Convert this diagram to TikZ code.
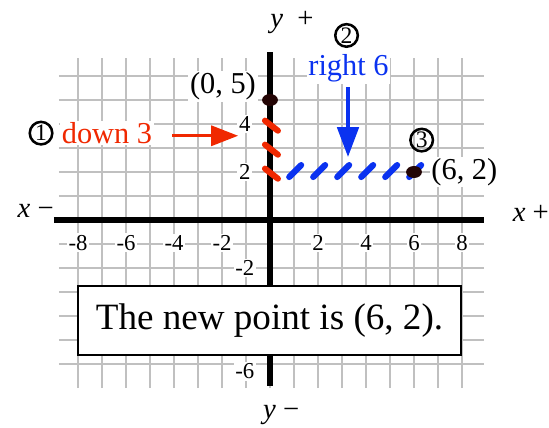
\documentclass[tikz,border=0pt]{standalone}
\usepackage{fontspec}
\setmainfont{Liberation Serif}
\usetikzlibrary{arrows.meta,positioning,shapes.geometric}
\definecolor{downred}{RGB}{240,40,0}
\definecolor{rightblue}{RGB}{10,50,240}
\definecolor{gridgray}{RGB}{192,192,192}
\definecolor{dotbrown}{RGB}{35,5,5}
\tikzset{
 gridline/.style={gridgray,line width=1.6pt},
 axisline/.style={black,line width=3pt},
 ticklabel/.style={fill=white,inner sep=1pt,font=\fontsize{13.5}{14}\selectfont},
 ptlabel/.style={fill=white,inner sep=1pt,font=\fontsize{18}{20}\selectfont},
 axislabel/.style={inner sep=1pt,font=\fontsize{17}{18}\selectfont},
 numcircle/.style={circle,draw,line width=1.5pt,inner sep=0pt,minimum size=0.47cm,font=\fontsize{14}{14}\selectfont},
 ptdot/.style={ellipse,fill=dotbrown,inner sep=0pt,minimum width=0.33cm,minimum height=0.25cm},
 redstroke/.style={downred,line width=3.6pt,line cap=round},
 bluestroke/.style={rightblue,line width=3.6pt,line cap=round},
 redarrow/.style={downred,line width=1.6pt,-{Triangle[length=0.56cm,width=0.42cm]}},
 bluearrow/.style={rightblue,line width=1.8pt,-{Triangle[length=0.62cm,width=0.45cm]}},
 msgbox/.style={draw,fill=white,line width=1.5pt,inner sep=0pt,minimum width=7.98cm,minimum height=1.44cm,font=\fontsize{22}{24}\selectfont}
}
\begin{document}
\begin{tikzpicture}[x=0.5cm,y=0.5cm]
 \useasboundingbox (-11.25,-8.625) rectangle (11.625,9.167);
 % grid and axes
 \foreach \x in {-8,...,8} \draw[gridline] (\x,-7) -- (\x,6.75);
 \foreach \y in {-6,...,6} \draw[gridline] (-8.8,\y) -- (8.9,\y);
 \draw[axisline] (-9,0) -- (8.9,0); \draw[axisline] (0,-6.9) -- (0,7);
 \node[axislabel,anchor=base west] (xminus) at (-10.6,0.12) {\textit{x} −}; \node[axislabel,anchor=base west] (xplus) at (10.03,-0.08) {\textit{x} +};
 \node[axislabel,anchor=base west] (yplus) at (-0.07,8.04) {\textit{y}\hspace{0.5em}+}; \node[axislabel,anchor=base west] (yminus) at (-0.37,-8.25) {\textit{y} −};
 \foreach \x [count=\i] in {-8,-6,-4,-2,2,4,6,8} \node[ticklabel] (tx\i) at (\x,-0.95) {\x};
 \foreach \y/\t [count=\i] in {4/4,2/2,-2/-2,-6.3/-6} \node[ticklabel] (ty\i) at (-1.05,\y) {\t};
 % moves
 \foreach \y in {4,3,2} \draw[redstroke] (-0.21,{\y+0.14}) -- (0.33,{\y-0.28});
 \foreach \x in {1,...,6} \draw[bluestroke] ({\x-0.2},1.79) -- ({\x+0.3},2.29);
 \node[ptdot] (p05) at (0,5) {}; \node[ptdot] (p62) at (6,2) {};
 \node[ptlabel] (l05) at (-1.96,5.58) {(0, 5)}; \node[ptlabel,right=0.15cm of p62] (l62) {(6, 2)};
 \node[numcircle] (c1) at (-9.54,3.62) {1}; \node[ptlabel,text=downred,right=0.13cm of c1] (downlbl) {down 3};
 \coordinate (rs) at (-4.08,3.51); \coordinate (rt) at (-1.33,3.51); \draw[redarrow] (rs) -- (rt);
 \node[numcircle] (c2) at (3.19,7.69) {2}; \node[ptlabel,text=rightblue] (rightlbl) at (3.27,6.33) {right 6};
 \coordinate (bs) at (3.25,5.54); \coordinate (bt) at (3.25,2.63); \draw[bluearrow] (bs) -- (bt);
 \node[numcircle] (c3) at (6.32,3.33) {3};
 \node[msgbox] (msg) at (-0.02,-4.19) {The new point is (6, 2).};
\end{tikzpicture}
\end{document}
